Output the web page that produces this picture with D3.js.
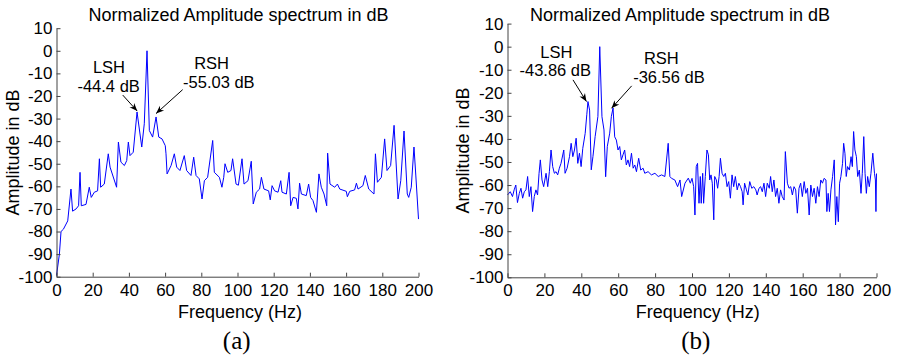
<!DOCTYPE html>
<html>
<head>
<meta charset="utf-8">
<script src="https://d3js.org/d3.v7.min.js"></script>
<style>
  body { margin: 0; background: #fff; }
  text { font-family: "Liberation Sans", Arial, Helvetica, sans-serif; fill: #000; }
</style>
</head>
<body>
<script>
// shared labels / ticks
const titleText = 'Normalized Amplitude spectrum in dB';
const xLabelText = 'Frequency (Hz)';
const yLabelText = 'Amplitude in dB';
const xTickValues = [0, 20, 40, 60, 80, 100, 120, 140, 160, 180, 200];
const yTickValues = [10, 0, -10, -20, -30, -40, -50, -60, -70, -80, -90, -100];

// panel (a) spectrum
const freqA = [0, 1.6, 2.5, 3.8, 6.2, 8.0, 8.9, 10.8, 12.2, 13.0, 13.7, 16.3, 18.1, 19.2, 20.9, 22.7, 23.7, 24.4,
  26.4, 28.6, 29.6, 33.2, 34.2, 35.6, 37.5, 38.8, 39.7, 40.6, 42.4, 44.5, 47.1, 48.5, 50, 51.3, 53.1, 55.0, 56.5,
  58.3, 60.1, 60.5, 61.1, 63.3, 65.1, 66.4, 68.2, 70.6, 71.9, 74.3, 75.8, 77.1, 78.9, 80.4, 81.7, 83.5, 86.3, 87.2,
  90.0, 91.4, 92.4, 93.1, 94.6, 96.4, 97.3, 99.2, 100.5, 102.5, 103.6, 105.8, 107.6, 108.7, 110.4, 112.2, 113.2,
  114.6, 117.2, 118.1, 119.1, 120.5, 122.4, 123.9, 124.6, 127.0, 128.5, 129.4, 130.7, 132.5, 133.4, 134.3, 135.3,
  138.0, 139.3, 140.4, 141.7, 143.6, 145.0, 146.3, 147.8, 149.3, 149.8, 151.1, 153.7, 155.2, 156.5, 160.1, 160.7,
  162.0, 164.7, 165.7, 166.6, 169.3, 170.6, 172.5, 175.4, 176.2, 177.3, 179.5, 181.3, 182.6, 184.6, 186.5, 188.7,
  190.2, 192.0, 193.8, 194.6, 196.0, 197.5, 198.5, 200];
const dbA = [-99.5, -90, -80, -79, -75.3, -61.2, -71, -70, -68.6, -53.8, -68.6, -68, -60.4, -64.9, -62.6, -62, -47.8, -60.4,
  -59, -45.6, -51.5, -60.4, -40.4, -49.3, -50.8, -48.6, -40.4, -46.4, -44.9, -27.1, -42.6, -32.3, 0, -35.3, -38.2, -29.3, -38.2,
  -39, -42, -45.6, -54.5, -50.8, -45.6, -51.5, -53, -46.4, -53, -55.2, -47.1, -55.2, -56.7, -65.6, -57.5, -56, -39.7, -53.8,
  -56, -60.4, -56, -50, -53.8, -53, -47.8, -59, -59.5, -47.8, -59, -57.5, -48.9, -67.8, -62.6, -61.2, -56,
  -61.2, -62, -66, -59.7, -62, -62.6, -57.5, -62.6, -63.4, -53.8, -68.6, -64.9, -65.3, -70, -58.6, -63.4,
  -64.1, -59, -64.9, -66.3, -71.5, -54.5, -60.4, -63.4, -68.6, -45.3, -59, -60.4, -59, -61.2, -62.2, -64.6,
  -62.2, -61.6, -58.6, -61.2, -59.7, -55.2, -61.2, -63.4, -45.6, -58.2, -56, -39, -53, -50.8, -33, -65.6,
  -57.5, -35.5, -63.4, -64.9, -60.4, -42.6, -55, -74.5];

// panel (b) spectrum
const freqB = [0, 1.5, 2.7, 3.6, 4.5, 5.4, 6.4, 7.3, 8.2, 9.1, 10.0, 10.9, 11.8, 12.7, 13.6, 14.5, 15.4, 16.3, 17.1,
  17.8, 18.7, 19.6, 20.9, 21.8, 22.7, 23.6, 24.5, 25.4, 26.3, 27.2, 28.1, 29.0, 30.5, 31.2, 32.3, 33.6, 34.5, 35.4,
  36.3, 37.2, 38.1, 39.0, 39.9, 40.8, 42.1, 43.0, 43.6, 44.5, 45.4, 46.3, 47.5, 49.0, 50, 51.2, 52.3, 53.2, 54.1,
  55.4, 56.3, 57.2, 58.1, 59.0, 59.9, 60.8, 61.7, 62.6, 63.5, 64.4, 65.3, 66.2, 67.2, 68.1, 69.0, 69.9, 71.1, 72.2,
  73.5, 74.4, 76.2, 78.0, 79.9, 81.7, 83.5, 85.3, 87.1, 88.0, 88.9, 90.7, 92.2, 93.5, 94.4, 96.2, 98.0,
  99.1, 100.0, 100.9, 101.6, 102.3, 103.0, 103.8, 104.5, 105.0, 105.8, 106.3, 107.2, 108.1, 108.9, 109.6, 110.3,
  111.0, 111.8, 112.3, 113.2, 113.9, 114.7, 115.4, 116.3, 117.2, 118.1, 119.0, 119.9, 120.8, 121.7, 122.6, 123.5,
  124.5, 125.4, 126.3, 127.2, 127.7, 128.5, 129.5, 130.3, 131.3, 132.4, 133.5, 134.6, 135.3, 136.3, 137.2, 138.1,
  139.0, 139.9, 140.8, 141.9, 142.6, 143.5, 144.4, 145.3, 146.2, 147.1, 148.0, 148.9, 149.9, 150.6, 151.7, 152.6,
  153.5, 154.4, 155.3, 156.2, 157.1, 158.0, 158.9, 159.8, 160.8, 161.7, 162.6, 163.5, 164.4, 165.3, 166.2, 167.1,
  168.0, 168.9, 169.8, 170.7, 171.6, 172.6, 173.1, 173.8, 174.5, 175.3, 176.2, 177.1, 177.8, 178.5, 179.3, 180.0,
  180.7, 181.6, 182.2, 182.9, 183.6, 184.3, 185.3, 186.2, 186.9, 187.6, 188.3, 189.1, 189.8, 190.7, 191.6, 192.3,
  193.1, 193.8, 194.5, 195.2, 196.1, 197.0, 198.0, 198.9, 199.4, 199.7, 200];
const dbB = [-64.3, -62.9, -65, -62.1, -60, -67.6, -63.6, -61.4, -65.7, -62.9, -62.1, -56.3, -65, -60.7, -71.5, -65, -62.1, -64.3, -54.9,
  -49.1, -57.8, -60.7, -54.9, -60.7, -54.2, -44.8, -52, -54.9, -54.2, -55.6, -52.7, -50.6, -44.8, -54.9, -52.7, -47.7, -41.9, -47.7,
  -44.8, -39.7, -50.6, -46.2, -52, -44.1, -37.6, -29.3, -23.8, -27.5, -53.4, -47.7, -39, -30.3, 0, -30.4, -36.1, -56.4, -43.2,
  -37.5, -30.2, -26.6, -39.1, -40.5, -44.8, -43.3, -49.1, -46.9, -44.8, -51.3, -49.1, -52, -46.2, -52.7, -51.3, -54.2, -48.4, -53.5,
  -52.7, -54.9, -54.2, -55.6, -54.9, -56.3, -55.6, -56.3, -41.9, -56.3, -57.1, -57.8, -60.7, -57.8, -65, -59.2, -57,
  -59.2, -57.1, -60.7, -73, -52, -50.6, -67.9, -56.3, -67.9, -54.9, -67.9, -56.3, -44.8, -46.9, -57.8, -55.6,
  -59.2, -75.1, -56.3, -57.8, -61.4, -56.3, -48.4, -54.9, -56.3, -54.9, -60.7, -58.5, -65.7, -55.6, -60.7, -56.3,
  -62.1, -59.2, -60.7, -62.9, -68.6, -59.2, -62.1, -64.3, -58.5, -61.4, -60.7, -62.1, -64.3, -61.4, -60.7, -62.9,
  -59.2, -65, -59.2, -61.4, -56.3, -62.9, -57.8, -65, -61.4, -67.9, -62.1, -65, -66.5, -45.5, -59.2, -61.4,
  -60.7, -64.3, -60.7, -62.1, -72.2, -61.4, -59.2, -65, -58.5, -63.6, -61.4, -73, -60, -65, -61.4, -67.9,
  -60.7, -65, -57.8, -59.2, -57.1, -57.8, -71.5, -63.6, -71.5, -62.1, -56.3, -49.1, -77.3, -65, -75.9, -59.2,
  -56.3, -50.6, -41.9, -46.2, -56.3, -52, -53.5, -47.7, -52, -36.8, -44.8, -47.7, -56.3, -53.5, -63.6, -54.9,
  -39, -54.9, -63.6, -56.3, -60.7, -54.9, -46.2, -54.9, -57.8, -71.5, -55];

const panels = [
  {
    freq: freqA, db: dbA, caption: '(a)',
    xRange: [56.5, 418.5], yRange: [276.7, 28.2],
    titleX: 238.5, xLabelX: 240, yLabelX: 19, captionX: 236.7,
    notes: [
      { text: 'LSH', f: 29.0, d: -9.8 },
      { text: '-44.4 dB', f: 28.8, d: -18.2 },
      { text: 'RSH', f: 85.7, d: -8.1 },
      { text: '-55.03 dB', f: 89.7, d: -16.5 }
    ],
    arrows: [
      { f0: 36.6, d0: -19.6, f1: 44.6, d1: -26.7 },
      { f0: 69.7, d0: -17.2, f1: 55.0, d1: -27.8 }
    ]
  },
  {
    freq: freqB, db: dbB, caption: '(b)',
    xRange: [507.5, 876.5], yRange: [277.3, 23.6],
    titleX: 680, xLabelX: 697.7, yLabelX: 468.5, captionX: 695.8,
    notes: [
      { text: 'LSH', f: 26.5, d: -4.7 },
      { text: '-43.86 dB', f: 25.9, d: -12.8 },
      { text: 'RSH', f: 83.4, d: -7.5 },
      { text: '-36.56 dB', f: 87.5, d: -15.6 }
    ],
    arrows: [
      { f0: 35.5, d0: -14.4, f1: 42.8, d1: -23.8 },
      { f0: 67.3, d0: -17.0, f1: 56.4, d1: -26.7 }
    ]
  }
];

const svg = d3.select('body')
  .append('svg')
  .attr('width', 897)
  .attr('height', 360)
  .style('display', 'block');

svg.append('rect').attr('width', 897).attr('height', 360).attr('fill', '#fff');

svg.append('defs').append('marker')
  .attr('id', 'arrowhead')
  .attr('viewBox', '0 0 10 10')
  .attr('refX', 10).attr('refY', 5)
  .attr('markerWidth', 10).attr('markerHeight', 8)
  .attr('markerUnits', 'userSpaceOnUse')
  .attr('orient', 'auto')
  .append('path')
  .attr('d', 'M0,1 L10,5 L0,9 L3,5 Z')
  .attr('fill', '#000');

panels.forEach(p => drawPanel(p));

function drawPanel(p) {
  const x = d3.scaleLinear().domain([0, 200]).range(p.xRange);
  const y = d3.scaleLinear().domain([-100, 10]).range(p.yRange);
  const g = svg.append('g');

  // spectrum line
  const pts = p.freq.map((f, i) => [f, p.db[i]]);
  g.append('path')
    .datum(pts)
    .attr('fill', 'none')
    .attr('stroke', '#0000ff')
    .attr('stroke-width', 1)
    .attr('stroke-linejoin', 'round')
    .attr('d', d3.line().x(d => x(d[0])).y(d => y(d[1])));

  // axes, matlab style ticks pointing inward, plain hyphen for minus
  const fmt = d => String(d);
  const xAxis = d3.axisBottom(x).tickValues(xTickValues).tickFormat(fmt)
    .tickSizeInner(-4).tickSizeOuter(0).tickPadding(7);
  const yAxis = d3.axisLeft(y).tickValues(yTickValues).tickFormat(fmt)
    .tickSizeInner(-4).tickSizeOuter(0).tickPadding(4);

  const gx = g.append('g').attr('transform', `translate(0,${p.yRange[0]})`).call(xAxis);
  const gy = g.append('g').attr('transform', `translate(${p.xRange[0]},0)`).call(yAxis);
  [gx, gy].forEach(a => {
    a.select('.domain').attr('stroke', '#444');
    a.selectAll('.tick line').attr('stroke', '#444');
    a.selectAll('.tick text')
      .style('font-family', '"Liberation Sans", Arial, sans-serif')
      .style('font-size', '17px')
      .attr('fill', '#000');
  });

  // title and axis labels
  g.append('text')
    .attr('x', p.titleX).attr('y', 20.7)
    .attr('text-anchor', 'middle')
    .style('font-size', '18px')
    .text(titleText);

  g.append('text')
    .attr('x', p.xLabelX).attr('y', 318.3)
    .attr('text-anchor', 'middle')
    .style('font-size', '18px')
    .text(xLabelText);

  const midY = (p.yRange[0] + p.yRange[1]) / 2;
  g.append('text')
    .attr('transform', `translate(${p.yLabelX},${midY}) rotate(-90)`)
    .attr('text-anchor', 'middle')
    .style('font-size', '18px')
    .text(yLabelText);

  g.append('text')
    .attr('x', p.captionX).attr('y', 349)
    .attr('text-anchor', 'middle')
    .style('font-family', '"Liberation Serif", "Times New Roman", serif')
    .style('font-size', '25px')
    .text(p.caption);

  // sideband annotations
  g.selectAll('text.note')
    .data(p.notes)
    .enter()
    .append('text')
    .attr('class', 'note')
    .attr('x', d => x(d.f))
    .attr('y', d => y(d.d))
    .attr('text-anchor', 'middle')
    .style('font-size', '16.5px')
    .text(d => d.text);

  g.selectAll('line.arrow')
    .data(p.arrows)
    .enter()
    .append('line')
    .attr('class', 'arrow')
    .attr('x1', d => x(d.f0)).attr('y1', d => y(d.d0))
    .attr('x2', d => x(d.f1)).attr('y2', d => y(d.d1))
    .attr('stroke', '#000')
    .attr('stroke-width', 1)
    .attr('marker-end', 'url(#arrowhead)');
}
</script>
</body>
</html>
